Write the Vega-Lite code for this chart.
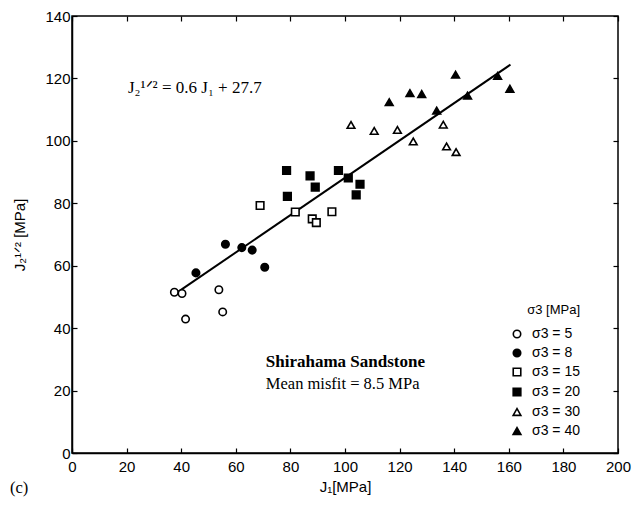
{
  "$schema": "https://vega.github.io/schema/vega-lite/v6.json",
  "width": 546,
  "height": 437,
  "autosize": {"type": "none"},
  "padding": {"left": 72, "top": 16, "right": 18, "bottom": 52},
  "background": "white",
  "config": {
    "view": {"stroke": "black", "strokeWidth": 1.5},
    "axis": {
      "domainColor": "black", "domainWidth": 1.5, "tickColor": "black", "tickWidth": 1.2,
      "grid": false, "labelFont": "Liberation Sans", "labelFontSize": 15, "labelColor": "black",
      "titleFont": "Liberation Sans", "titleFontSize": 15, "titleFontWeight": "normal", "titleColor": "black"
    },
    "legend": {
      "titleFont": "Liberation Sans", "titleFontSize": 13, "titleFontWeight": "normal", "titleColor": "black",
      "labelFont": "Liberation Sans", "labelFontSize": 14, "labelColor": "black",
      "symbolStrokeColor": "black", "symbolStrokeWidth": 1.6
    }
  },
  "datasets": {
    "points": [
      {"J1": 37.5, "J2": 51.5, "group": "σ3 = 5"},
      {"J1": 40.3, "J2": 51.1, "group": "σ3 = 5"},
      {"J1": 41.6, "J2": 42.9, "group": "σ3 = 5"},
      {"J1": 53.8, "J2": 52.3, "group": "σ3 = 5"},
      {"J1": 55.2, "J2": 45.2, "group": "σ3 = 5"},
      {"J1": 45.4, "J2": 57.7, "group": "σ3 = 8"},
      {"J1": 56.2, "J2": 66.9, "group": "σ3 = 8"},
      {"J1": 62.2, "J2": 65.8, "group": "σ3 = 8"},
      {"J1": 66.0, "J2": 65.0, "group": "σ3 = 8"},
      {"J1": 70.6, "J2": 59.5, "group": "σ3 = 8"},
      {"J1": 68.9, "J2": 79.3, "group": "σ3 = 15"},
      {"J1": 81.8, "J2": 77.2, "group": "σ3 = 15"},
      {"J1": 88.0, "J2": 75.0, "group": "σ3 = 15"},
      {"J1": 89.5, "J2": 73.8, "group": "σ3 = 15"},
      {"J1": 95.2, "J2": 77.3, "group": "σ3 = 15"},
      {"J1": 78.6, "J2": 90.5, "group": "σ3 = 20"},
      {"J1": 78.9, "J2": 82.2, "group": "σ3 = 20"},
      {"J1": 87.2, "J2": 88.8, "group": "σ3 = 20"},
      {"J1": 89.1, "J2": 85.2, "group": "σ3 = 20"},
      {"J1": 97.6, "J2": 90.5, "group": "σ3 = 20"},
      {"J1": 101.2, "J2": 88.1, "group": "σ3 = 20"},
      {"J1": 105.5, "J2": 86.1, "group": "σ3 = 20"},
      {"J1": 104.1, "J2": 82.7, "group": "σ3 = 20"},
      {"J1": 102.2, "J2": 105.1, "group": "σ3 = 30"},
      {"J1": 110.7, "J2": 103.2, "group": "σ3 = 30"},
      {"J1": 119.2, "J2": 103.5, "group": "σ3 = 30"},
      {"J1": 125.0, "J2": 99.8, "group": "σ3 = 30"},
      {"J1": 136.0, "J2": 105.2, "group": "σ3 = 30"},
      {"J1": 137.2, "J2": 98.2, "group": "σ3 = 30"},
      {"J1": 140.7, "J2": 96.4, "group": "σ3 = 30"},
      {"J1": 116.2, "J2": 112.4, "group": "σ3 = 40"},
      {"J1": 123.8, "J2": 115.3, "group": "σ3 = 40"},
      {"J1": 128.1, "J2": 115.0, "group": "σ3 = 40"},
      {"J1": 133.6, "J2": 109.7, "group": "σ3 = 40"},
      {"J1": 140.5, "J2": 121.2, "group": "σ3 = 40"},
      {"J1": 144.9, "J2": 114.5, "group": "σ3 = 40"},
      {"J1": 155.9, "J2": 120.8, "group": "σ3 = 40"},
      {"J1": 160.4, "J2": 116.7, "group": "σ3 = 40"}
    ],
    "fit": [
      {"J1": 37.5, "J2": 50.8},
      {"J1": 160.6, "J2": 124.4}
    ],
    "labels": [
      {"J1": 20.5, "J2": 117.0, "text": "J₂¹ᐟ² = 0.6 J₁ + 27.7", "kind": "eq"},
      {"J1": 71.0, "J2": 29.2, "text": "Shirahama Sandstone", "kind": "bold"},
      {"J1": 71.0, "J2": 22.1, "text": "Mean misfit = 8.5 MPa", "kind": "plain"},
      {"J1": -22.7, "J2": -11.2, "text": "(c)", "kind": "plain"}
    ]
  },
  "resolve": {"axis": {"x": "independent", "y": "independent"}},
  "layer": [
    {
      "data": {"name": "fit"},
      "mark": {"type": "line", "color": "black", "strokeWidth": 2},
      "encoding": {
        "x": {"field": "J1", "type": "quantitative", "scale": {"domain": [0, 200], "nice": false, "zero": false},
              "axis": {"values": [0, 20, 40, 60, 80, 100, 120, 140, 160, 180, 200], "tickSize": -5, "labelPadding": 11, "title": "J₁[MPa]", "titlePadding": 5, "labelFlush": false}},
        "y": {"field": "J2", "type": "quantitative", "scale": {"domain": [0, 140], "nice": false, "zero": false},
              "axis": {"values": [0, 20, 40, 60, 80, 100, 120, 140], "tickSize": -5, "labelPadding": 7, "title": "J₂¹ᐟ² [MPa]", "titlePadding": 17, "labelFlush": false}}
      }
    },
    {
      "data": {"name": "points"},
      "mark": {"type": "point", "filled": true, "strokeWidth": 1.6, "opacity": 1},
      "encoding": {
        "x": {"field": "J1", "type": "quantitative",
              "axis": {"orient": "top", "values": [0, 20, 40, 60, 80, 100, 120, 140, 160, 180, 200], "labels": false, "title": null, "domain": false, "tickSize": -5}},
        "y": {"field": "J2", "type": "quantitative",
              "axis": {"orient": "right", "values": [0, 20, 40, 60, 80, 100, 120, 140], "labels": false, "title": null, "domain": false, "tickSize": -5}},
        "shape": {"field": "group", "type": "nominal", "title": "σ3 [MPa]",
                  "scale": {"domain": ["σ3 = 5", "σ3 = 8", "σ3 = 15", "σ3 = 20", "σ3 = 30", "σ3 = 40"],
                            "range": ["circle", "circle", "square", "square", "triangle-up", "triangle-up"]},
                  "legend": {"orient": "none", "legendX": 438, "legendY": 288, "titleAnchor": "end", "titlePadding": 10, "rowPadding": 5, "padding": 0, "labelOffset": 8}},
        "fill": {"field": "group", "type": "nominal", "title": "σ3 [MPa]",
                 "scale": {"domain": ["σ3 = 5", "σ3 = 8", "σ3 = 15", "σ3 = 20", "σ3 = 30", "σ3 = 40"],
                           "range": ["white", "black", "white", "black", "white", "black"]},
                 "legend": {"orient": "none", "legendX": 438, "legendY": 288, "titleAnchor": "end", "titlePadding": 10, "rowPadding": 5, "padding": 0, "labelOffset": 8}},
        "stroke": {"field": "group", "type": "nominal", "title": "σ3 [MPa]",
                   "scale": {"domain": ["σ3 = 5", "σ3 = 8", "σ3 = 15", "σ3 = 20", "σ3 = 30", "σ3 = 40"],
                             "range": ["black", "black", "black", "black", "black", "black"]},
                   "legend": {"orient": "none", "legendX": 438, "legendY": 288, "titleAnchor": "end", "titlePadding": 10, "rowPadding": 5, "padding": 0, "labelOffset": 8}},
        "size": {"field": "group", "type": "nominal", "title": "σ3 [MPa]",
                 "scale": {"domain": ["σ3 = 5", "σ3 = 8", "σ3 = 15", "σ3 = 20", "σ3 = 30", "σ3 = 40"],
                           "range": [55, 60, 50, 60, 75, 85]},
                 "legend": {"orient": "none", "legendX": 438, "legendY": 288, "titleAnchor": "end", "titlePadding": 10, "rowPadding": 5, "padding": 0, "labelOffset": 8}}
      }
    },
    {
      "data": {"name": "labels"},
      "transform": [{"filter": "datum.kind === 'eq'"}],
      "mark": {"type": "text", "align": "left", "baseline": "middle", "font": "Liberation Serif", "fontSize": 17, "color": "black", "clip": false},
      "encoding": {
        "x": {"field": "J1", "type": "quantitative", "axis": null},
        "y": {"field": "J2", "type": "quantitative", "axis": null},
        "text": {"field": "text"}
      }
    },
    {
      "data": {"name": "labels"},
      "transform": [{"filter": "datum.kind === 'bold'"}],
      "mark": {"type": "text", "align": "left", "baseline": "middle", "font": "Liberation Serif", "fontSize": 17, "fontWeight": "bold", "color": "black", "clip": false},
      "encoding": {
        "x": {"field": "J1", "type": "quantitative", "axis": null},
        "y": {"field": "J2", "type": "quantitative", "axis": null},
        "text": {"field": "text"}
      }
    },
    {
      "data": {"name": "labels"},
      "transform": [{"filter": "datum.kind === 'plain'"}],
      "mark": {"type": "text", "align": "left", "baseline": "middle", "font": "Liberation Serif", "fontSize": 16.5, "color": "black", "clip": false},
      "encoding": {
        "x": {"field": "J1", "type": "quantitative", "axis": null},
        "y": {"field": "J2", "type": "quantitative", "axis": null},
        "text": {"field": "text"}
      }
    }
  ]
}
